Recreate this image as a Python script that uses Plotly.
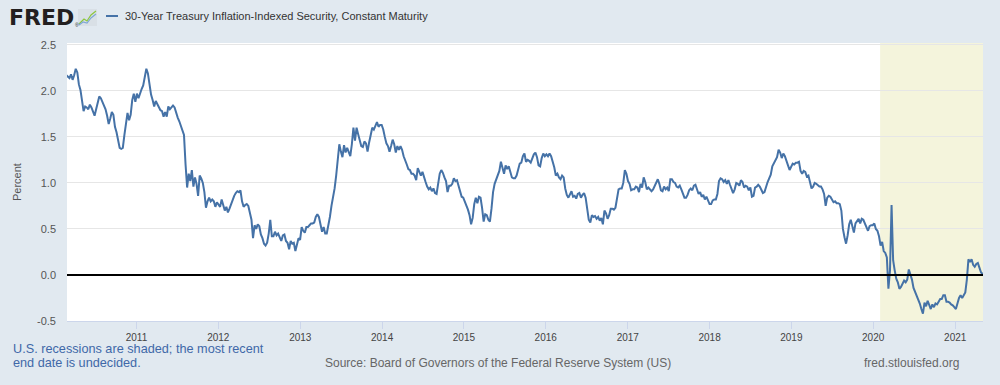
import pandas as pd
import plotly.graph_objects as go

# Weekly readings of the 30-Year TIPS constant-maturity yield (percent)
seg_2010_2011 = [
    2.17, 2.15, 2.14, 2.18, 2.12, 2.17, 2.24, 2.20, 2.07, 2.01,
    1.90, 1.78, 1.83, 1.82, 1.80, 1.85, 1.82, 1.78, 1.73, 1.80,
    1.87, 1.94, 1.92, 1.88, 1.85, 1.80, 1.73, 1.64, 1.70, 1.77,
    1.74, 1.61, 1.55, 1.46, 1.38, 1.37, 1.38, 1.52, 1.62, 1.76,
    1.68, 1.74, 1.90, 1.97, 1.88, 1.97, 1.92, 1.98, 2.02, 2.06,
    2.15, 2.24, 2.19, 2.05, 1.96, 1.90, 1.83, 1.89, 1.86, 1.82,
    1.79, 1.78, 1.72, 1.77, 1.72, 1.83, 1.80, 1.82, 1.84, 1.82,
    1.76, 1.71, 1.67, 1.62, 1.56, 1.52, 1.20, 0.95, 1.10, 1.02,
    1.14, 0.96, 1.06, 0.99, 0.86, 1.08, 1.05, 1.00, 0.90, 0.73,
    0.80, 0.84, 0.80, 0.82, 0.80, 0.74, 0.79, 0.77, 0.74,
]
seg_2012_2013 = [
    0.82, 0.76, 0.70, 0.74, 0.68, 0.72, 0.77, 0.81, 0.86, 0.89,
    0.91, 0.90, 0.92, 0.80, 0.74, 0.76, 0.77, 0.75, 0.66, 0.60,
    0.40, 0.54, 0.50, 0.55, 0.53, 0.44, 0.40, 0.34, 0.32, 0.35,
    0.45, 0.60, 0.42, 0.42, 0.47, 0.43, 0.45, 0.40, 0.37, 0.43,
    0.44, 0.37, 0.35, 0.28, 0.37, 0.34, 0.35, 0.26, 0.33, 0.40,
    0.38, 0.52, 0.48, 0.46, 0.52, 0.52, 0.54, 0.56, 0.56, 0.57,
    0.63, 0.66, 0.63, 0.56, 0.47, 0.52, 0.45, 0.45, 0.53, 0.63,
    0.75, 0.84, 0.94, 1.08, 1.22, 1.42, 1.34, 1.28, 1.41, 1.33,
    1.38, 1.33, 1.29, 1.42, 1.60, 1.46, 1.60, 1.53, 1.47, 1.40,
    1.39, 1.45, 1.43, 1.34, 1.44, 1.53, 1.60,
]
seg_2014_2015 = [
    1.58, 1.63, 1.66, 1.61, 1.63, 1.63, 1.58, 1.50, 1.43, 1.40,
    1.34, 1.40, 1.47, 1.42, 1.33, 1.40, 1.36, 1.40, 1.36, 1.29,
    1.23, 1.20, 1.15, 1.14, 1.10, 1.10, 1.08, 1.03, 1.16, 1.12,
    1.08, 1.12, 1.05, 1.01, 0.96, 0.93, 0.95, 0.91, 0.94, 0.89,
    0.88, 0.98, 1.10, 1.14, 1.11, 1.06, 1.02, 0.90, 0.97, 0.97,
    0.99, 1.05, 1.02, 1.03, 0.97, 0.89, 0.85, 0.84, 0.80, 0.74,
    0.71, 0.65, 0.55, 0.62, 0.77, 0.84, 0.78, 0.85, 0.84, 0.73,
    0.58, 0.66, 0.65, 0.60, 0.58, 0.72, 0.90, 0.99, 1.04, 1.08,
    1.13, 1.23, 1.16, 1.10, 1.19, 1.15, 1.18, 1.11, 1.06, 1.05,
    1.05, 1.08, 1.14, 1.21, 1.22, 1.29, 1.32,
]
seg_2016_2017 = [
    1.23, 1.25, 1.24, 1.22, 1.27, 1.31, 1.33, 1.28, 1.19, 1.18,
    1.27, 1.32, 1.29, 1.31, 1.29, 1.32, 1.29, 1.24, 1.17, 1.08,
    1.10, 1.06, 1.04, 1.08, 1.06, 0.94, 0.87, 0.84, 0.88, 0.91,
    0.85, 0.86, 0.83, 0.88, 0.89, 0.84, 0.87, 0.89, 0.84, 0.72,
    0.60, 0.57, 0.65, 0.63, 0.64, 0.61, 0.63, 0.59, 0.62, 0.55,
    0.70, 0.67, 0.61, 0.65, 0.72, 0.72, 0.71, 0.73, 0.82, 0.93,
    0.94, 0.94, 1.00, 1.14, 1.10, 1.02, 0.99, 0.92, 0.93, 0.93,
    0.96, 0.95, 0.90, 0.99, 0.95, 1.06, 1.01, 0.93, 0.95, 0.93,
    0.91, 0.93, 0.97, 1.02, 1.04, 0.99, 0.92, 0.91, 0.96, 0.93,
    0.95, 0.91, 1.04, 1.04, 1.01, 1.00, 0.96,
]
seg_2018_2019 = [
    0.95, 0.97, 0.93, 0.89, 0.84, 0.84, 0.87, 0.92, 0.94, 0.92,
    0.97, 0.98, 0.92, 0.88, 0.90, 0.85, 0.87, 0.82, 0.85, 0.80,
    0.77, 0.77, 0.81, 0.82, 0.82, 0.88, 1.02, 1.05, 1.04, 1.01,
    1.03, 0.99, 1.03, 0.98, 0.94, 0.89, 0.93, 1.00, 0.99, 0.97,
    1.03, 1.01, 0.95, 0.97, 0.96, 0.92, 0.95, 0.85, 0.86, 0.95,
    0.96, 0.98, 0.96, 0.93, 0.89, 0.90, 0.97, 1.01, 1.05, 1.09,
    1.18, 1.22, 1.24, 1.28, 1.36, 1.33, 1.27, 1.32, 1.29, 1.25,
    1.19, 1.14, 1.17, 1.21, 1.20, 1.22, 1.22, 1.23, 1.13, 1.10,
    1.13, 1.12, 1.07, 1.08, 1.01, 0.94, 0.96, 1.00, 0.99, 0.97,
    0.96, 0.96, 0.93, 0.88, 0.75, 0.84, 0.86,
]
seg_2019_2021 = [
    0.85, 0.82, 0.79, 0.80, 0.78, 0.78, 0.77, 0.70, 0.50, 0.41,
    0.34, 0.43, 0.55, 0.60, 0.52, 0.46, 0.56, 0.59, 0.61, 0.56,
    0.61, 0.60, 0.56, 0.50, 0.48, 0.53, 0.54, 0.54, 0.56, 0.50,
    0.48, 0.42, 0.32, 0.36, 0.26, 0.24, 0.19, -0.15, 0.05, 0.76,
    0.16, 0.05, -0.04, -0.08, -0.15, -0.13, -0.10, -0.06, -0.08, -0.05,
    0.06, 0.01, -0.05, -0.14, -0.18, -0.21, -0.26, -0.31, -0.37, -0.42,
    -0.30, -0.34, -0.28, -0.33, -0.37, -0.32, -0.35, -0.31, -0.32, -0.29,
    -0.26, -0.26, -0.22, -0.22, -0.29, -0.29, -0.30, -0.32, -0.33, -0.35,
    -0.37, -0.31, -0.25, -0.22, -0.25, -0.22, -0.19, -0.05, 0.17, 0.14,
    0.17, 0.11, 0.09, 0.12, 0.13, 0.08, 0.03, 0.01,
]

values = (seg_2010_2011 + seg_2012_2013 + seg_2014_2015
          + seg_2016_2017 + seg_2018_2019 + seg_2019_2021)
dates = pd.date_range("2010-02-22", periods=len(values), freq="7D")

year_ticks = [str(y) for y in range(2011, 2022)]
y_ticks = [-0.5, 0.0, 0.5, 1.0, 1.5, 2.0, 2.5]
y_ticktext = ["-0.5", "0.0", "0.5", "1.0", "1.5", "2.0", "2.5"]
recession_start = "2020-02-01"
x_range = ["2010-02-25", "2021-05-05"]

W, H = 1000, 385
ML, MR, MT, MB = 67, 17, 43, 64
PW, PH = W - ML - MR, H - MT - MB


def px(x):
    return (x - ML) / PW


def py(y):
    return (H - MB - y) / PH


FONT = "Liberation Sans, Arial, sans-serif"

fig = go.Figure()
fig.add_trace(go.Scatter(
    x=dates, y=values, mode="lines",
    line=dict(color="#4572a7", width=2),
    showlegend=False, hoverinfo="skip",
))

shapes = [
    # recession shading
    dict(type="rect", xref="x", yref="paper", x0=recession_start, x1=x_range[1],
         y0=0, y1=1, fillcolor="#f4f4dc", line=dict(width=0), layer="below"),
    # zero line
    dict(type="line", xref="paper", yref="y", x0=0, x1=1, y0=0, y1=0,
         line=dict(color="black", width=2), layer="above"),
    # legend swatch
    dict(type="line", xref="paper", yref="paper", x0=px(106), x1=px(118),
         y0=py(16), y1=py(16), line=dict(color="#4572a7", width=2)),
    # FRED icon box
    dict(type="rect", xref="paper", yref="paper", x0=px(78), x1=px(97),
         y0=py(26), y1=py(9), fillcolor="#d9e0e6", line=dict(width=0)),
    dict(type="path", xref="paper", yref="paper",
         path=f"M {px(79)},{py(24)} L {px(84)},{py(19)} L {px(87)},{py(21)} L {px(91)},{py(15)} L {px(96)},{py(11)}",
         line=dict(color="#8dc63f", width=1.2)),
    dict(type="path", xref="paper", yref="paper",
         path=f"M {px(79)},{py(25)} L {px(83)},{py(22)} L {px(87)},{py(23)} L {px(91)},{py(18)} L {px(96)},{py(14)}",
         line=dict(color="#7fa7d6", width=1.2)),
]

annotations = [
    dict(text="<b>FRED</b>", x=px(7), y=py(18), xanchor="left", yanchor="middle",
         font=dict(family="DejaVu Sans", size=22, color="#231f20")),
    dict(text="®", x=px(73), y=py(25), xanchor="left", yanchor="middle",
         font=dict(family=FONT, size=5, color="#231f20")),
    dict(text="30-Year Treasury Inflation-Indexed Security, Constant Maturity",
         x=px(123), y=py(16), xanchor="left", yanchor="middle",
         font=dict(family=FONT, size=11, color="#333333")),
    dict(text="Percent", x=px(17), y=py(182), xanchor="center", yanchor="middle",
         textangle=-90, font=dict(family=FONT, size=11, color="#555555")),
    dict(text="U.S. recessions are shaded; the most recent",
         x=px(11), y=py(349), xanchor="left", yanchor="middle",
         font=dict(family=FONT, size=12.7, color="#4068a8")),
    dict(text="end date is undecided.",
         x=px(11), y=py(363), xanchor="left", yanchor="middle",
         font=dict(family=FONT, size=12.7, color="#4068a8")),
    dict(text="Source: Board of Governors of the Federal Reserve System (US)",
         x=px(323), y=py(363), xanchor="left", yanchor="middle",
         font=dict(family=FONT, size=12, color="#666666")),
    dict(text="fred.stlouisfed.org",
         x=px(862), y=py(363), xanchor="left", yanchor="middle",
         font=dict(family=FONT, size=12, color="#666666")),
]
for a in annotations:
    a.update(xref="paper", yref="paper", showarrow=False)

fig.update_layout(
    width=W, height=H,
    margin=dict(l=ML, r=MR, t=MT, b=MB, pad=0),
    paper_bgcolor="#e1e9f0", plot_bgcolor="white",
    font=dict(family=FONT),
    shapes=shapes, annotations=annotations,
    xaxis=dict(
        type="date", range=x_range,
        tickvals=[f"{y}-01-01" for y in year_ticks], ticktext=year_ticks,
        ticks="outside", ticklen=7, tickcolor="#ccd6eb", tickwidth=1,
        showline=True, linecolor="#ccd6eb", linewidth=1,
        showgrid=False, zeroline=False,
        tickfont=dict(family=FONT, size=10, color="#444444"),
        fixedrange=True,
    ),
    yaxis=dict(
        range=[-0.5, 2.52], tickvals=y_ticks, ticktext=y_ticktext,
        showgrid=True, gridcolor="#e6e6e6", gridwidth=1,
        zeroline=False, showline=False, ticks="",
        ticklabelstandoff=10,
        tickfont=dict(family=FONT, size=11, color="#555555"),
        fixedrange=True,
    ),
)

fig.write_html(
    "out.html",
    config={"displayModeBar": False},
    post_script="document.body.style.margin='0px';document.body.style.overflow='hidden';",
)
